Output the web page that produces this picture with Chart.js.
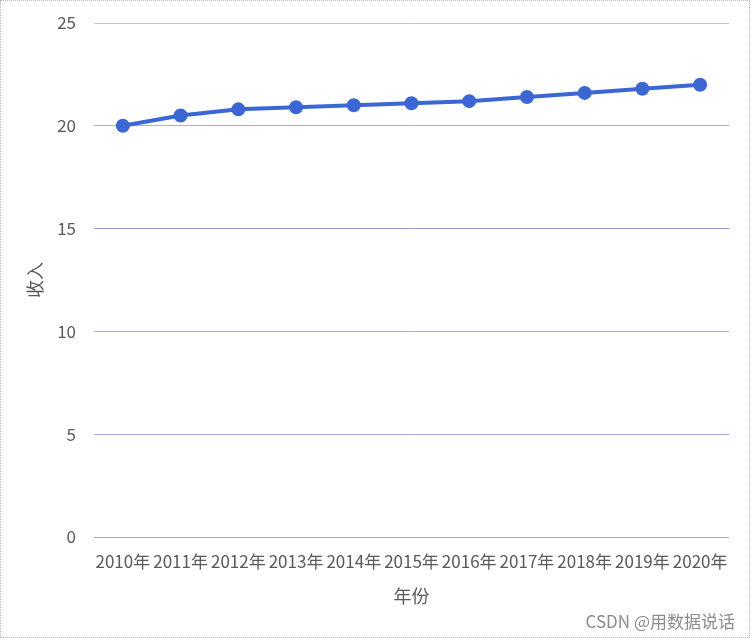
<!DOCTYPE html>
<html>
<head>
<meta charset="utf-8">
<script src="https://cdn.jsdelivr.net/npm/chart.js@4/dist/chart.umd.min.js"></script>
<style>
    body { margin: 0; background: #fff; }
    #box { position: absolute; left: 0; top: 0; width: 748px; height: 636px; border: 1px dotted #b8b8b8; background: #fff; }
    #wm { position: absolute; right: 14px; bottom: 4px; font: 17px "Noto Sans CJK SC", sans-serif; color: #8c8c8c; }
</style>
</head>
<body>
<div id="box">
    <canvas id="incomeChart" width="748" height="636"></canvas>
    <div id="wm">CSDN @用数据说话</div>
</div>
<script>
    "use strict";

    // data
    const years = ["2010年", "2011年", "2012年", "2013年", "2014年", "2015年", "2016年", "2017年", "2018年", "2019年", "2020年"];
    const income = [20, 20.5, 20.8, 20.9, 21.0, 21.1, 21.2, 21.4, 21.6, 21.8, 22];
    const yTicks = [0, 5, 10, 15, 20, 25];

    // each horizontal gridline has its own colour in the original
    const gridColors = ["#a8a8a8", "#aaa6ee", "#7cc8cf", "#9d95d8", "#9fb3ee", "#c4c4c4"];

    const fontFam = '"Noto Sans CJK SC", "Noto Sans", sans-serif';
    const grey = "#595959";

    var ctx = document.getElementById("incomeChart");
    var myChart = new Chart(ctx, {
        type: 'line',
        data: {
            labels: years,
            datasets: [{
                label: "收入",
                data: income,
                borderColor: "#3b66d4",
                backgroundColor: "#3b66d4",
                borderWidth: 4,
                pointRadius: 5,
                pointHoverRadius: 5,
                tension: 0,
                fill: false
            }]
        },
        options: {
            responsive: false,
            animation: false,
            layout: { padding: { top: 0, right: 20, left: 19, bottom: 26 } },
            plugins: {
                legend: { display: false },
                tooltip: { enabled: false }
            },
            scales: {
                x: {
                    offset: true,
                    grid: { display: false },
                    border: { display: false },
                    ticks: {
                        color: grey,
                        font: { family: fontFam, size: 17 },
                        maxRotation: 0,
                        autoSkip: false,
                        padding: 6
                    },
                    title: {
                        display: true,
                        text: "年份",
                        color: grey,
                        font: { family: fontFam, size: 18 },
                        padding: { top: 8 }
                    }
                },
                y: {
                    min: yTicks[0],
                    max: yTicks[yTicks.length - 1],
                    border: { display: false },
                    afterFit: function (axis) {
                        axis.width = 74;
                        axis.paddingTop = 22;
                    },
                    grid: {
                        drawTicks: false,
                        lineWidth: 1,
                        color: function (c) { return gridColors[c.index] || "#ddd"; }
                    },
                    ticks: {
                        stepSize: 5,
                        color: grey,
                        font: { family: fontFam, size: 17 },
                        padding: 18
                    },
                    title: {
                        display: true,
                        text: "收入",
                        color: grey,
                        font: { family: fontFam, size: 18 },
                        padding: { top: 4, bottom: 0 }
                    }
                }
            }
        }
    });
</script>
</body>
</html>
